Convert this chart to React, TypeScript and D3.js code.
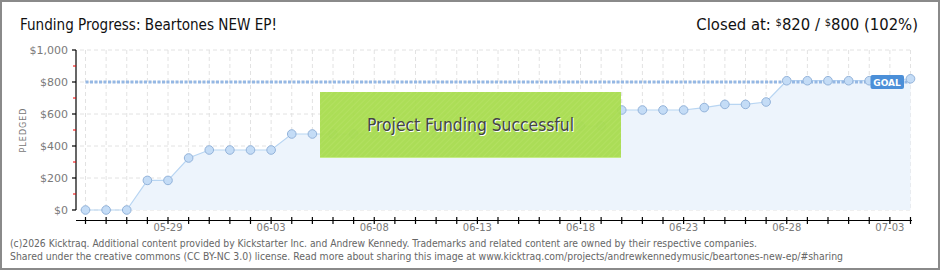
import React from "react";
import * as d3 from "d3";

const W = 940;
const H = 270;

const dates = [
  "05-25","05-26","05-27","05-28","05-29","05-30","05-31","06-01","06-02","06-03",
  "06-04","06-05","06-06","06-07","06-08","06-09","06-10","06-11","06-12","06-13",
  "06-14","06-15","06-16","06-17","06-18","06-19","06-20","06-21","06-22","06-23",
  "06-24","06-25","06-26","06-27","06-28","06-29","06-30","07-01","07-02","07-03","07-04",
];
const pledged = [
  0, 0, 0, 185, 185, 325, 375, 375, 375, 375,
  475, 475, 475, 475, 475, 475, 475, 475, 475, 475,
  475, 475, 475, 500, 525, 525, 625, 625, 625, 625,
  640, 660, 660, 675, 808, 808, 808, 808, 808, 810, 820,
];
const labeledDates = ["05-29","06-03","06-08","06-13","06-18","06-23","06-28","07-03"];
const yTicks = [0, 200, 400, 600, 800, 1000];
const yMinorTicks = [100, 300, 500, 700, 900];
const goal = 800;
const title = "Funding Progress: Beartones NEW EP!";
const footer1 = "(c)2026 Kicktraq. Additional content provided by Kickstarter Inc. and Andrew Kennedy. Trademarks and related content are owned by their respective companies.";
const footer2 = "Shared under the creative commons (CC BY-NC 3.0) license. Read more about sharing this image at www.kicktraq.com/projects/andrewkennedymusic/beartones-new-ep/#sharing";

export default function App() {
  const x = d3.scalePoint<string>().domain(dates).range([85.5, 910.5]);
  const y = d3.scaleLinear().domain([0, 1000]).range([210, 50]);
  const pts = dates.map((d, i) => ({ d, v: pledged[i] }));
  const line = d3.line<{ d: string; v: number }>().x((p) => x(p.d)!).y((p) => y(p.v));
  const area = d3
    .area<{ d: string; v: number }>()
    .x((p) => x(p.d)!)
    .y0(y(0))
    .y1((p) => y(p.v));
  const axisX0 = 76;
  const font = "'DejaVu Sans', Verdana, sans-serif";
  const titleFont = "'Liberation Sans Narrow', 'DejaVu Sans Condensed', 'Roboto', sans-serif";
  const boxX = 320, boxY = 92, boxW = 301, boxH = 66;

  return (
    <svg width={W} height={H} style={{ position: "absolute", left: 0, top: 0, background: "#fff" }}>
      <defs>
        <pattern id="hatch" width="4" height="4" patternUnits="userSpaceOnUse" patternTransform="rotate(45)">
          <rect width="4" height="4" fill="#a8dc4e" />
          <line x1="0" y1="0" x2="0" y2="4" stroke="#b2e05c" strokeWidth="1.5" />
        </pattern>
      </defs>
      <rect x={1} y={1} width={W - 2} height={H - 2} fill="#fff" stroke="#8a8a8a" strokeWidth={2} />

      {/* title */}
      <text x={20} y={30} fontFamily={titleFont} fontSize={16.5} fill="#111" textLength={257} lengthAdjust="spacingAndGlyphs">
        {title}
      </text>
      <text x={918} y={30} fontFamily={titleFont} fontSize={16.5} fill="#111" textAnchor="end">
        <tspan>Closed at: </tspan>
        <tspan fontSize={11} dy={-4}>$</tspan>
        <tspan dy={4}>820 / </tspan>
        <tspan fontSize={11} dy={-4}>$</tspan>
        <tspan dy={4}>800 (102%)</tspan>
      </text>

      {/* grid */}
      {dates.map((d) => (
        <line key={"gv" + d} x1={x(d)} x2={x(d)} y1={50} y2={210} stroke="#e2e2e2" strokeDasharray="4,3" />
      ))}
      {yTicks.map((t) => (
        <line key={"gh" + t} x1={axisX0 + 4} x2={911} y1={y(t)} y2={y(t)} stroke="#e2e2e2" strokeDasharray="4,3" />
      ))}

      {/* area & line */}
      <path d={area(pts) || ""} fill="#edf4fc" />
      <path d={line(pts) || ""} fill="none" stroke="#b8d5f2" strokeWidth={1.2} />

      {/* goal line */}
      <line x1={x(dates[0])} x2={x(dates[dates.length - 1])} y1={y(goal)} y2={y(goal)} stroke="#95b8e4" strokeWidth={3} strokeDasharray="3,1.5" />

      {pts.map((p) => (
        <circle key={"c" + p.d} cx={x(p.d)} cy={y(p.v)} r={4.3} fill="#c4dcf6" stroke="#93b3da" strokeWidth={1} />
      ))}

      {/* GOAL badge */}
      <g>
        <rect x={870.5} y={75} width={33.5} height={14} rx={2} fill="#4b8fd8" />
        <text x={887} y={85.5} textAnchor="middle" fontFamily={font} fontSize={9} fontWeight="bold" fill="#fff">GOAL</text>
      </g>

      {/* y axis */}
      <line x1={axisX0} x2={axisX0} y1={50} y2={210} stroke="#000" strokeWidth={1.2} />
      {yTicks.map((t) => (
        <g key={"yt" + t}>
          <line x1={axisX0 - 4} x2={axisX0} y1={y(t)} y2={y(t)} stroke="#000" strokeWidth={1.2} />
          <text x={68} y={y(t) + 4} textAnchor="end" fontFamily={font} fontSize={11} fill="#7a7a7a">
            {"$" + d3.format(",")(t)}
          </text>
        </g>
      ))}
      {yMinorTicks.map((t) => (
        <line key={"ym" + t} x1={axisX0 - 3} x2={axisX0} y1={y(t)} y2={y(t)} stroke="#e00" strokeWidth={1} />
      ))}
      <text transform="translate(26,130) rotate(-90)" textAnchor="middle" fontFamily={font} fontSize={8} letterSpacing={1} fill="#777">
        PLEDGED
      </text>

      {/* x axis */}
      <line x1={axisX0} x2={912} y1={220.5} y2={220.5} stroke="#000" strokeWidth={1.2} />
      {dates.map((d) => (
        <line key={"xt" + d} x1={x(d)} x2={x(d)} y1={217} y2={224} stroke="#000" strokeWidth={1.2} />
      ))}
      {labeledDates.map((d) => (
        <text key={"xl" + d} x={x(d)} y={231} textAnchor="middle" fontFamily={font} fontSize={10} fill="#7a7a7a">
          {d}
        </text>
      ))}

      {/* success box */}
      <g>
        <rect x={boxX} y={boxY} width={boxW} height={boxH} fill="url(#hatch)" opacity={0.95} />
        <line x1={boxX} x2={boxX + boxW} y1={boxY + boxH - 0.5} y2={boxY + boxH - 0.5} stroke="#c4ec84" />
        <text x={boxX + boxW / 2 + 1} y={132} textAnchor="middle" fontFamily={titleFont} fontSize={18} fill="#fff" textLength={207} lengthAdjust="spacingAndGlyphs">
          Project Funding Successful
        </text>
        <text x={boxX + boxW / 2} y={131} textAnchor="middle" fontFamily={titleFont} fontSize={18} fill="#444" textLength={207} lengthAdjust="spacingAndGlyphs">
          Project Funding Successful
        </text>
      </g>

      {/* footer */}
      <text x={10} y={247} fontFamily={font} fontSize={10} fill="#666" textLength={747} lengthAdjust="spacingAndGlyphs">{footer1}</text>
      <text x={10} y={260} fontFamily={font} fontSize={10} fill="#666" textLength={833} lengthAdjust="spacingAndGlyphs">{footer2}</text>
    </svg>
  );
}
